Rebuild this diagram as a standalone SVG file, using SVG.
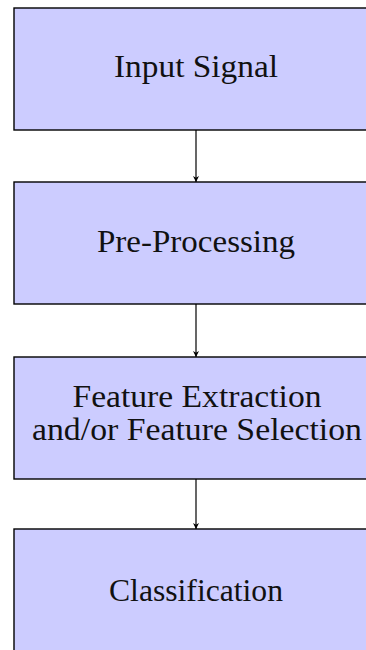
<svg xmlns="http://www.w3.org/2000/svg" width="366" height="650" viewBox="0 0 366 650">
<style>
.box{fill:#CCCCFF;stroke:#000;stroke-width:1.4}
.lbl{font-family:"Liberation Serif","Times New Roman",serif;font-size:32px;fill:#111;text-anchor:middle}
.conn{stroke:#000;stroke-width:1.2;fill:none;marker-end:url(#ah)}
</style>
<defs>
<marker id="ah" viewBox="0 0 10 10" refX="10" refY="5" markerWidth="6" markerHeight="6" markerUnits="userSpaceOnUse" orient="auto">
<path d="M0,0 L10,5 L0,10 L3,5 Z" fill="#000"/>
</marker>
</defs>
<g id="input-signal">
<rect class="box" x="14" y="8" width="364" height="122"/>
<text class="lbl" x="196" y="77" textLength="164" lengthAdjust="spacingAndGlyphs">Input Signal</text>
</g>
<g id="pre-processing">
<rect class="box" x="14" y="182" width="364" height="122"/>
<text class="lbl" x="196" y="252" textLength="198" lengthAdjust="spacingAndGlyphs">Pre-Processing</text>
</g>
<g id="feature-extraction">
<rect class="box" x="14" y="357" width="364" height="122"/>
<text class="lbl" x="197" y="407" textLength="249" lengthAdjust="spacingAndGlyphs">Feature Extraction</text>
<text class="lbl" x="197" y="440" textLength="330" lengthAdjust="spacingAndGlyphs">and/or Feature Selection</text>
</g>
<g id="classification">
<rect class="box" x="14" y="529" width="364" height="122"/>
<text class="lbl" x="196" y="601" textLength="174" lengthAdjust="spacingAndGlyphs">Classification</text>
</g>
<g id="connectors">
<line class="conn" x1="196" y1="130" x2="196" y2="182"/>
<line class="conn" x1="196" y1="304" x2="196" y2="357"/>
<line class="conn" x1="196" y1="479" x2="196" y2="529"/>
</g>
</svg>
